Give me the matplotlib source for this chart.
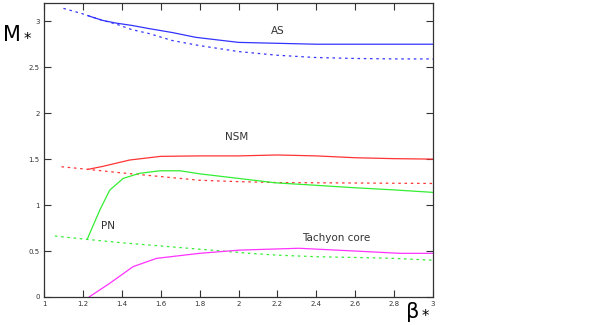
import numpy as np
import matplotlib.pyplot as plt

# AS branch (blue)
as_solid_x = [1.226, 1.3, 1.37, 1.45, 1.54, 1.66, 1.78, 2.0, 2.2, 2.4, 2.6, 2.8, 3.0]
as_solid_y = [3.06, 3.01, 2.98, 2.955, 2.92, 2.877, 2.825, 2.77, 2.76, 2.75, 2.75, 2.75, 2.75]
as_dot_x = [1.10, 1.2, 1.3, 1.37, 1.45, 1.54, 1.66, 1.8, 2.0, 2.2, 2.4, 2.6, 2.8, 3.0]
as_dot_y = [3.14, 3.08, 3.01, 2.97, 2.91, 2.866, 2.79, 2.735, 2.67, 2.63, 2.605, 2.595, 2.59, 2.59]

# NSM branch (red)
nsm_solid_x = [1.225, 1.3, 1.44, 1.6, 1.8, 2.0, 2.2, 2.4, 2.6, 2.8, 3.0]
nsm_solid_y = [1.388, 1.42, 1.49, 1.53, 1.535, 1.535, 1.545, 1.535, 1.515, 1.505, 1.50]
nsm_dot_x = [1.09, 1.22, 1.4, 1.6, 1.8, 2.0, 2.2, 2.6, 3.0]
nsm_dot_y = [1.417, 1.39, 1.35, 1.31, 1.27, 1.255, 1.245, 1.24, 1.235]

# PN branch (green)
pn_solid_x = [1.222, 1.287, 1.338, 1.407, 1.49, 1.595, 1.70, 1.8, 2.0, 2.19, 2.4, 2.585, 2.8, 3.0]
pn_solid_y = [0.627, 0.946, 1.163, 1.29, 1.345, 1.373, 1.373, 1.34, 1.29, 1.242, 1.215, 1.19, 1.165, 1.138]
pn_dot_x = [1.056, 1.22, 1.4, 1.6, 1.8, 2.056, 2.2, 2.4, 2.6, 2.8, 3.0]
pn_dot_y = [0.663, 0.627, 0.59, 0.555, 0.52, 0.475, 0.455, 0.438, 0.43, 0.42, 0.40]

# Tachyon core (magenta)
tc_x = [1.232, 1.338, 1.458, 1.578, 1.8, 2.005, 2.31, 2.57, 2.83, 3.0]
tc_y = [0.0, 0.149, 0.33, 0.42, 0.475, 0.51, 0.53, 0.503, 0.475, 0.475]

fig = plt.figure(figsize=(5.93, 3.25), dpi=100)
ax = fig.add_axes([0.0742, 0.0862, 0.656, 0.905])

lw = 0.9
dots = (0, (2, 3))
ax.plot(as_solid_x, as_solid_y, color='#3333ff', lw=lw)
ax.plot(as_dot_x, as_dot_y, color='#3333ff', lw=lw, ls=dots)
ax.plot(nsm_solid_x, nsm_solid_y, color='#ff3333', lw=lw)
ax.plot(nsm_dot_x, nsm_dot_y, color='#ff3333', lw=lw, ls=dots)
ax.plot(pn_solid_x, pn_solid_y, color='#33ee33', lw=lw)
ax.plot(pn_dot_x, pn_dot_y, color='#33ee33', lw=lw, ls=dots)
ax.plot(tc_x, tc_y, color='#ff33ff', lw=lw)

ax.text(2.2, 2.89, 'AS', fontsize=7.5, color='#333333', ha='center', va='center')
ax.text(1.99, 1.74, 'NSM', fontsize=7.5, color='#333333', ha='center', va='center')
ax.text(1.33, 0.77, 'PN', fontsize=7.5, color='#333333', ha='center', va='center')
ax.text(2.5, 0.64, 'Tachyon core', fontsize=7.5, color='#333333', ha='center', va='center')

ax.set_xlim(1, 3)
ax.set_ylim(0, 3.2)
ax.set_xticks(np.arange(1, 3.01, 0.2))
ax.set_xticklabels(['1', '1.2', '1.4', '1.6', '1.8', '2', '2.2', '2.4', '2.6', '2.8', '3'])
ax.set_yticks([0, 0.5, 1, 1.5, 2, 2.5, 3])
ax.set_yticklabels(['0', '0.5', '1', '1.5', '2', '2.5', '3'])
ax.tick_params(direction='in', top=True, right=True, length=5, width=0.8,
               labelsize=5, colors='#333333', pad=3)
for s in ax.spines.values():
    s.set_color('#333333')
    s.set_linewidth(0.9)

fig.text(0.028, 0.9, r'$\mathrm{M}_*$', fontsize=15, ha='center', va='center', color='black')
fig.text(0.705, 0.04, r'$\mathrm{β}_*$', fontsize=15, ha='center', va='center', color='black')

fig.savefig('out.png', dpi=100)
